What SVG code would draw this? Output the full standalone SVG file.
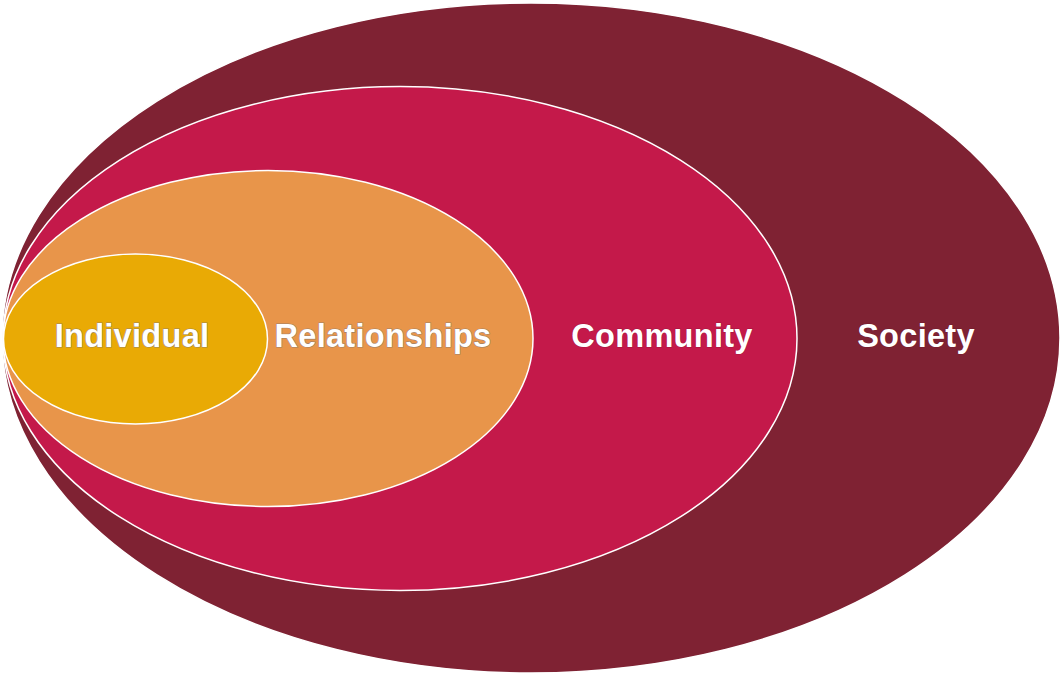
<svg xmlns="http://www.w3.org/2000/svg" width="1062" height="675" viewBox="0 0 1062 675">
<style>
.ring{stroke:#ffffff;stroke-width:1.5}
.lbl{font-family:"Liberation Sans",Arial,sans-serif;font-weight:bold;font-size:32.5px;fill:#ffffff;text-anchor:middle;letter-spacing:0.3px}
.out{stroke:#8a7a70;stroke-width:1.2;paint-order:stroke;stroke-opacity:0.8}
.sh{stroke:#5a1020;stroke-width:1;paint-order:stroke;stroke-opacity:0.35}
</style>
<rect width="1062" height="675" fill="#ffffff"/>
<g id="society">
<ellipse class="ring" cx="531" cy="338" rx="529" ry="335" fill="#7F2233" stroke-width="1"/>
<text class="lbl sh" x="916" y="347">Society</text>
</g>
<g id="community">
<ellipse class="ring" cx="400" cy="338.5" rx="397" ry="252" fill="#C4194A"/>
<text class="lbl sh" x="662" y="347">Community</text>
</g>
<g id="relationships">
<ellipse class="ring" cx="268" cy="338.5" rx="265" ry="168" fill="#E8954A"/>
<text class="lbl out" x="383" y="347">Relationships</text>
</g>
<g id="individual">
<ellipse class="ring" cx="135.5" cy="339" rx="132" ry="85" fill="#E9AA05"/>
<text class="lbl out" x="132" y="347">Individual</text>
</g>
<g id="connectors"/>
</svg>
